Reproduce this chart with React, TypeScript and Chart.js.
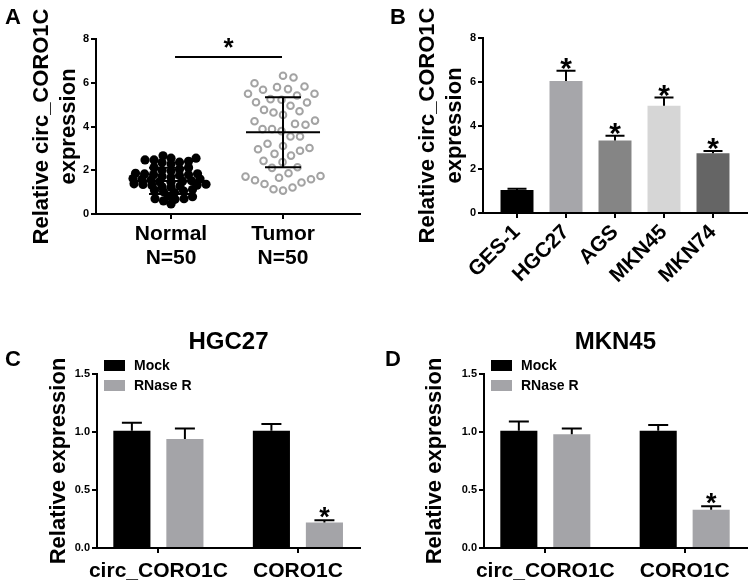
import React, { useEffect, useRef } from 'react';
import { Chart, registerables } from 'chart.js';
Chart.register(...registerables);

const FONT = "'Liberation Sans', Arial, Helvetica, sans-serif";

// ---------- Panel A data ----------
const groupsA = ['Normal', 'Tumor'];
const groupNA = ['N=50', 'N=50'];
const normalValues = [
  2.66, 2.55, 2.55, 2.47, 2.47, 2.41, 2.37, 2.35, 2.29,
  2.12, 2.12, 2.05, 1.97, 2.0,
  1.83, 1.86, 1.79, 1.76, 1.72, 1.8, 1.84, 1.68,
  1.62, 1.58, 1.55, 1.52, 1.5, 1.47, 1.45, 1.6,
  1.38, 1.35, 1.32, 1.3, 1.28, 1.25, 1.36, 1.22,
  1.12, 1.08, 1.05, 1.02, 0.98,
  0.82, 0.79, 0.7, 0.7, 0.67, 0.6, 0.46,
];
const tumorValues = [
  6.24, 6.32, 5.98, 5.8, 5.68, 5.5, 5.42, 5.5, 5.71, 5.83,
  5.25, 5.11, 4.95, 5.1, 5.22, 4.64, 4.76, 4.7, 4.53, 4.24,
  4.27, 4.08, 3.88, 3.79, 3.88, 4.12, 3.54, 3.54, 3.21, 3.11,
  2.96, 2.75, 2.67, 2.89, 3.02, 2.37, 2.11, 2.14, 2.43, 1.74,
  1.66, 1.59, 1.71, 1.86, 1.44, 1.54, 1.21, 1.07, 1.13, 1.37,
];
const meanA = [1.51, 3.74];
const sdA = [0.6, 1.6];
const bracketA = 7.18;

// ---------- Panel B data ----------
const cellLines = ['GES-1', 'HGC27', 'AGS', 'MKN45', 'MKN74'];
const valuesB = [1.05, 6.03, 3.31, 4.9, 2.73];
const errorsB = [0.06, 0.47, 0.22, 0.38, 0.11];
const sigB = [false, true, true, true, true];
const colorsB = ['#000000', '#a6a6aa', '#858585', '#d6d6d6', '#656565'];

// ---------- Panels C/D data ----------
const targets = ['circ_CORO1C', 'CORO1C'];
const treatments = ['Mock', 'RNase R'];
const treatColors = ['#000000', '#a4a4a8'];
const mockC = [1.01, 1.01];
const mockErrC = [0.07, 0.06];
const rnaseC = [0.94, 0.22];
const rnaseErrC = [0.09, 0.02];
const sigC = [false, true];
const mockD = [1.01, 1.01];
const mockErrD = [0.08, 0.05];
const rnaseD = [0.98, 0.33];
const rnaseErrD = [0.05, 0.03];
const sigD = [false, true];

// ---------- layout helpers ----------
function rowSwarm(values: number[], pxPerY: number, spacing: number, rowH: number): number[] {
  const order = values.map((_, i) => i).sort((a, b) => values[a] - values[b]);
  const placed: { x: number; y: number }[] = [];
  const out: number[] = new Array(values.length).fill(0);
  for (const i of order) {
    const y = values[i] * pxPerY;
    let chosen = 0;
    for (let k = 0; k < 4000; k++) {
      const cand = (k % 2 === 1 ? -1 : 1) * Math.ceil(k / 2) * 0.5;
      const ok = placed.every(
        (p) => ((p.x - cand) / spacing) ** 2 + ((p.y - y) / rowH) ** 2 >= 1
      );
      if (ok) {
        chosen = cand;
        break;
      }
    }
    placed.push({ x: chosen, y });
    out[i] = chosen;
  }
  return out;
}

const decorPlugin = {
  id: 'decor',
  afterDatasetsDraw(chart: any, _args: any, opts: any) {
    const ctx = chart.ctx;
    const xS = chart.scales.x;
    const yS = chart.scales.y;
    ctx.save();
    ctx.strokeStyle = '#000';
    ctx.fillStyle = '#000';
    ctx.lineWidth = 2;
    ctx.lineCap = 'butt';
    chart.data.datasets.forEach((ds: any, di: number) => {
      if (!ds.errorBars) return;
      const meta = chart.getDatasetMeta(di);
      meta.data.forEach((el: any, i: number) => {
        const d = ds.data[i];
        const v = typeof d === 'number' ? d : d.y;
        const base = yS.getPixelForValue(v);
        const top = yS.getPixelForValue(v + ds.errorBars[i]);
        ctx.beginPath();
        ctx.moveTo(el.x, base);
        ctx.lineTo(el.x, top);
        ctx.moveTo(el.x - opts.capHalf, top);
        ctx.lineTo(el.x + opts.capHalf, top);
        ctx.stroke();
        if (ds.sig && ds.sig[i]) {
          ctx.font = `bold ${opts.starSize}px ${FONT}`;
          ctx.textAlign = 'center';
          ctx.textBaseline = 'alphabetic';
          ctx.fillText('*', el.x, top + opts.starOffset);
        }
      });
    });
    if (opts.summary) {
      const s = opts.summary;
      s.means.forEach((m: number, g: number) => {
        const cx = xS.getPixelForValue(g);
        const my = yS.getPixelForValue(m);
        const hi = yS.getPixelForValue(m + s.sds[g]);
        const lo = yS.getPixelForValue(m - s.sds[g]);
        ctx.beginPath();
        ctx.moveTo(cx - s.meanHalf, my);
        ctx.lineTo(cx + s.meanHalf, my);
        ctx.moveTo(cx, hi);
        ctx.lineTo(cx, lo);
        ctx.moveTo(cx - s.capHalf[g], hi);
        ctx.lineTo(cx + s.capHalf[g], hi);
        ctx.moveTo(cx - s.capHalf[g], lo);
        ctx.lineTo(cx + s.capHalf[g], lo);
        ctx.stroke();
      });
    }
    if (opts.bracket) {
      const b = opts.bracket;
      const y = yS.getPixelForValue(b.y);
      const x1 = xS.getPixelForValue(b.from) + 4;
      const x2 = xS.getPixelForValue(b.to) - 1;
      ctx.beginPath();
      ctx.moveTo(x1, y);
      ctx.lineTo(x2, y);
      ctx.stroke();
      ctx.font = `bold ${b.starSize}px ${FONT}`;
      ctx.textAlign = 'center';
      ctx.textBaseline = 'alphabetic';
      ctx.fillText('*', (x1 + x2) / 2, y - 1);
    }
    ctx.restore();
  },
  afterDraw(chart: any, _args: any, opts: any) {
    const ctx = chart.ctx;
    const area = chart.chartArea;
    ctx.save();
    ctx.fillStyle = '#000';
    if (opts.letter) {
      ctx.font = `bold 22px ${FONT}`;
      ctx.textAlign = 'left';
      ctx.textBaseline = 'alphabetic';
      ctx.fillText(opts.letter, opts.letterX, opts.letterY);
    }
    if (opts.title) {
      ctx.font = `bold 24px ${FONT}`;
      ctx.textAlign = 'center';
      ctx.textBaseline = 'alphabetic';
      ctx.fillText(opts.title, (area.left + area.right) / 2, opts.titleY);
    }
    if (opts.legend) {
      chart.data.datasets.forEach((ds: any, i: number) => {
        const bx = area.left + 7;
        const by = area.top - 14 + i * 20;
        ctx.fillStyle = ds.backgroundColor;
        ctx.fillRect(bx, by, 21, 11);
        ctx.fillStyle = '#000';
        ctx.font = `bold 14px ${FONT}`;
        ctx.textAlign = 'left';
        ctx.textBaseline = 'middle';
        ctx.fillText(ds.label, bx + 30, by + 6);
      });
    }
    ctx.restore();
  },
};

const tickFont = { family: FONT, size: 11, weight: 'bold' as const };
const axisCommon = {
  grid: { display: true, drawOnChartArea: false, drawTicks: true, tickLength: 5, color: '#000', lineWidth: 2, offset: false },
  border: { display: true, color: '#000', width: 2 },
};

function yAxis(min: number, max: number, step: number, width: number, title: string | string[], titlePad: number, fmt?: (v: number) => string) {
  return {
    type: 'linear' as const,
    min,
    max,
    ...axisCommon,
    afterFit: (s: any) => {
      s.width = width;
    },
    ticks: {
      stepSize: step,
      font: tickFont,
      color: '#000',
      padding: 2,
      callback: (v: any) => (fmt ? fmt(Number(v)) : String(v)),
    },
    title: {
      display: true,
      text: title,
      color: '#000',
      font: { family: FONT, size: 22, weight: 'bold' as const, lineHeight: 1.23 },
      padding: { top: titlePad, bottom: 0 },
    },
  };
}

function xLinearAxis(min: number, max: number, count: number, height: number, labelFn: (i: number) => any, extraTicks: any) {
  return {
    type: 'linear' as const,
    min,
    max,
    offset: false,
    ...axisCommon,
    afterBuildTicks: (s: any) => {
      s.ticks = Array.from({ length: count }, (_, i) => ({ value: i }));
    },
    afterFit: (s: any) => {
      s.height = height;
    },
    ticks: {
      autoSkip: false,
      color: '#000',
      callback: (v: any) => labelFn(Math.round(Number(v))),
      ...extraTicks,
    },
  };
}

export default function App() {
  const refA = useRef<HTMLCanvasElement>(null);
  const refB = useRef<HTMLCanvasElement>(null);
  const refC = useRef<HTMLCanvasElement>(null);
  const refD = useRef<HTMLCanvasElement>(null);

  useEffect(() => {
    const charts: Chart[] = [];
    const common = {
      animation: false as const,
      responsive: false,
      devicePixelRatio: 1,
      events: [] as any[],
    };

    // Panel A
    const pxPerXA = 112;
    const pxPerYA = 175 / 8;
    const offN = rowSwarm(normalValues, pxPerYA, 9, 5);
    const offT = rowSwarm(tumorValues, pxPerYA, 9.5, 14);
    charts.push(
      new Chart(refA.current!, {
        type: 'scatter',
        data: {
          datasets: [
            {
              label: groupsA[0],
              data: normalValues.map((v, i) => ({ x: 0 + offN[i] / pxPerXA, y: v })),
              pointRadius: 4.6,
              backgroundColor: '#000',
              borderWidth: 0,
            },
            {
              label: groupsA[1],
              data: tumorValues.map((v, i) => ({ x: 1 + offT[i] / pxPerXA, y: v })),
              pointRadius: 3.3,
              backgroundColor: 'rgba(0,0,0,0)',
              borderColor: '#a3a3a3',
              borderWidth: 2,
            },
          ],
        },
        options: {
          ...common,
          layout: { padding: { left: 0, right: 10, top: 39, bottom: 6 } },
          plugins: {
            legend: { display: false },
            tooltip: { enabled: false },
            decor: {
              letter: 'A',
              letterX: 5,
              letterY: 24,
              summary: { means: meanA, sds: sdA, meanHalf: 37, capHalf: [22, 18] },
              bracket: { y: bracketA, from: 0, to: 1, starSize: 26 },
            },
          } as any,
          scales: {
            x: xLinearAxis(-0.67, 1.6875, 2, 70, (i) => [groupsA[i], groupNA[i]], {
              font: { family: FONT, size: 21, weight: 'bold', lineHeight: 1.11 },
              padding: 4,
              maxRotation: 0,
              minRotation: 0,
            }) as any,
            y: yAxis(0, 8, 2, 96, ['Relative circ_CORO1C', 'expression'], 28.8) as any,
          },
        },
        plugins: [decorPlugin],
      })
    );

    // Panel B
    charts.push(
      new Chart(refB.current!, {
        type: 'bar',
        data: {
          datasets: [
            {
              label: 'circ_CORO1C',
              data: valuesB.map((v, i) => ({ x: i, y: v })),
              backgroundColor: colorsB,
              borderWidth: 0,
              barPercentage: 0.673,
              categoryPercentage: 1,
              errorBars: errorsB,
              sig: sigB,
            } as any,
          ],
        },
        options: {
          ...common,
          layout: { padding: { left: 0, right: 3, top: 38, bottom: 0 } },
          plugins: {
            legend: { display: false },
            tooltip: { enabled: false },
            decor: { letter: 'B', letterX: 20, letterY: 24, capHalf: 9.5, starSize: 30, starOffset: 7 },
          } as any,
          scales: {
            x: xLinearAxis(-0.694, 4.694, 5, 77, (i) => cellLines[i], {
              font: { family: FONT, size: 21, weight: 'bold' },
              padding: 2,
              maxRotation: 45,
              minRotation: 45,
            }) as any,
            y: yAxis(0, 8, 2, 113, ['Relative circ_CORO1C', 'expression'], 44.5) as any,
          },
        },
        plugins: [decorPlugin],
      })
    );

    // Panels C and D
    const makeCD = (
      canvas: HTMLCanvasElement,
      mock: number[],
      mockErr: number[],
      rnase: number[],
      rnaseErr: number[],
      sig: boolean[],
      title: string,
      letter: string,
      letterX: number,
      yWidth: number,
      padRight: number,
      titlePad: number
    ) =>
      new Chart(canvas, {
        type: 'bar',
        data: {
          datasets: [
            {
              label: treatments[0],
              data: mock.map((v, i) => ({ x: i, y: v })),
              backgroundColor: treatColors[0],
              borderWidth: 0,
              barPercentage: 0.7,
              categoryPercentage: 0.76,
              errorBars: mockErr,
            } as any,
            {
              label: treatments[1],
              data: rnase.map((v, i) => ({ x: i, y: v })),
              backgroundColor: treatColors[1],
              borderWidth: 0,
              barPercentage: 0.7,
              categoryPercentage: 0.76,
              errorBars: rnaseErr,
              sig,
            } as any,
          ],
        },
        options: {
          ...common,
          layout: { padding: { left: 0, right: padRight, top: 74, bottom: 0 } },
          plugins: {
            legend: { display: false },
            tooltip: { enabled: false },
            decor: {
              letter,
              letterX,
              letterY: 66,
              title,
              titleY: 49,
              legend: true,
              capHalf: 10,
              starSize: 27,
              starOffset: 6,
            },
          } as any,
          scales: {
            x: xLinearAxis(-0.44, 1.445, 2, 35, (i) => targets[i], {
              font: { family: FONT, size: 21, weight: 'bold' },
              padding: 6,
              maxRotation: 0,
              minRotation: 0,
            }) as any,
            y: yAxis(0, 1.5, 0.5, yWidth, 'Relative expression', titlePad, (v) => v.toFixed(1)) as any,
          },
        },
        plugins: [decorPlugin],
      });

    charts.push(makeCD(refC.current!, mockC, mockErrC, rnaseC, rnaseErrC, sigC, 'HGC27', 'C', 5, 97, 10, 45.8));
    charts.push(makeCD(refD.current!, mockD, mockErrD, rnaseD, rnaseErrD, sigD, 'MKN45', 'D', 15, 114, 3.3, 51));

    return () => charts.forEach((c) => c.destroy());
  }, []);

  const cStyle = (left: number, top: number, w: number, h: number): React.CSSProperties => ({
    position: 'absolute',
    left,
    top,
    width: w,
    height: h,
    display: 'block',
  });

  return (
    <div style={{ position: 'absolute', left: 0, top: 0, width: 750, height: 583, background: '#fff' }}>
      <canvas ref={refA} width={370} height={290} style={cStyle(0, 0, 370, 290)} />
      <canvas ref={refB} width={380} height={290} style={cStyle(370, 0, 380, 290)} />
      <canvas ref={refC} width={370} height={283} style={cStyle(0, 300, 370, 283)} />
      <canvas ref={refD} width={380} height={283} style={cStyle(370, 300, 380, 283)} />
    </div>
  );
}
